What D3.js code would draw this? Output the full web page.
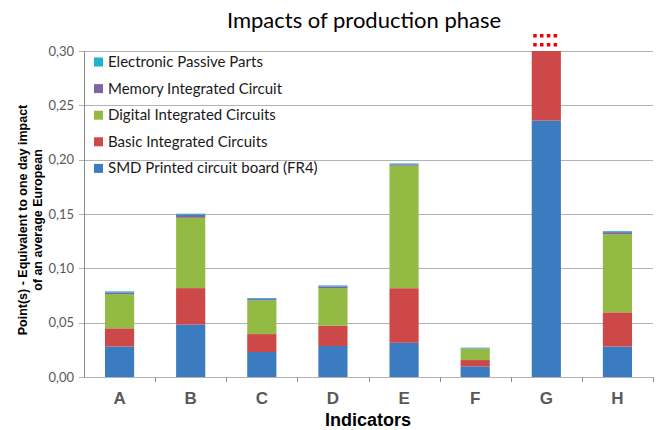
<!DOCTYPE html>
<html>
<head>
<meta charset="utf-8">
<script src="https://cdn.jsdelivr.net/npm/d3@7"></script>
<style>
  body { margin: 0; background: #fff; }
  svg { display: block; }
</style>
</head>
<body>
<div id="chart"></div>
<script>
// Chart data
const indicators = ["A", "B", "C", "D", "E", "F", "G", "H"];
const seriesNames = ["SMD Printed circuit board (FR4)", "Basic Integrated Circuits",
    "Digital Integrated Circuits", "Memory Integrated Circuit", "Electronic Passive Parts"];
const smdBoard   = [0.0280, 0.0482, 0.0230, 0.0285, 0.0315, 0.0098, 0.2360, 0.0280];
const basicIC    = [0.0168, 0.0336, 0.0165, 0.0187, 0.0502, 0.0058, 0.0900, 0.0315];
const digitalIC  = [0.0315, 0.0647, 0.0310, 0.0346, 0.1128, 0.0104, 0.0000, 0.0719];
const memoryIC   = [0.0015, 0.0028, 0.0012, 0.0016, 0.0012, 0.0004, 0.0000, 0.0019];
const passive    = [0.0010, 0.0010, 0.0009, 0.0009, 0.0008, 0.0006, 0.0000, 0.0009];
const yTicks = [0, 0.05, 0.10, 0.15, 0.20, 0.25, 0.30];

const colors = ["#3b7cc0", "#cd4849", "#93bb44", "#8064a2", "#1fb2cc"];

const width = 659;
const height = 430;
const margin = {top: 51, left: 84, right: 6, bottom: 53};

const svg = d3.select("#chart")
    .append("svg")
    .attr("width", width)
    .attr("height", height);

const xScale = d3.scaleBand()
    .domain(indicators)
    .range([margin.left, width - margin.right])
    .paddingInner(0.59)
    .paddingOuter(0.295);

const yScale = d3.scaleLinear()
    .domain([0, 0.30])
    .range([height - margin.bottom, margin.top]);

// gridlines
svg.append("g")
    .selectAll("line")
    .data(yTicks)
    .enter()
    .append("line")
        .attr("x1", margin.left - 5)
        .attr("x2", width - margin.right)
        .attr("y1", d => Math.round(yScale(d)) + 0.5)
        .attr("y2", d => Math.round(yScale(d)) + 0.5)
        .attr("stroke", "#b3b3b3")
        .attr("stroke-width", 1.2);

// stacked bars
const table = indicators.map((k, i) => ({
    key: k, s0: smdBoard[i], s1: basicIC[i], s2: digitalIC[i], s3: memoryIC[i], s4: passive[i]
}));
const stacked = d3.stack().keys(["s0", "s1", "s2", "s3", "s4"])(table);

svg.append("clipPath")
    .attr("id", "plotClip")
    .append("rect")
        .attr("x", margin.left)
        .attr("y", yScale(0.30))
        .attr("width", width - margin.left - margin.right)
        .attr("height", yScale(0) - yScale(0.30));

svg.append("g")
    .attr("clip-path", "url(#plotClip)")
    .selectAll("g")
    .data(stacked)
    .enter()
    .append("g")
        .attr("fill", (d, i) => colors[i])
    .selectAll("rect")
    .data(d => d)
    .enter()
    .append("rect")
        .attr("x", d => xScale(d.data.key))
        .attr("y", d => yScale(d[1]))
        .attr("width", xScale.bandwidth())
        .attr("height", d => Math.max(0, yScale(d[0]) - yScale(d[1])));

// off-scale marker above G
const overKeys = table.filter(d => d.s0 + d.s1 + d.s2 + d.s3 + d.s4 > 0.30).map(d => d.key);
overKeys.forEach(function(k) {
    const x0 = xScale(k) + 1;
    const step = (xScale.bandwidth() - 2) / 4;
    for (let r = 0; r < 2; r++) {
        for (let c = 0; c < 4; c++) {
            svg.append("rect")
                .attr("x", x0 + c * step + 0.5)
                .attr("y", yScale(0.30) - 17 + r * 9)
                .attr("width", 3.5)
                .attr("height", 3.5)
                .attr("fill", "#e8000b");
        }
    }
});

// axes
svg.append("line")
    .attr("x1", margin.left + 0.5).attr("x2", margin.left + 0.5)
    .attr("y1", yScale(0.30)).attr("y2", yScale(0) + 0.5)
    .attr("stroke", "#8c8c8c");

const step = xScale.step();
svg.append("g")
    .selectAll("line")
    .data(indicators)
    .enter()
    .append("line")
        .attr("x1", d => Math.round(xScale(d) + xScale.bandwidth() + step * 0.295) + 0.5)
        .attr("x2", d => Math.round(xScale(d) + xScale.bandwidth() + step * 0.295) + 0.5)
        .attr("y1", yScale(0))
        .attr("y2", yScale(0) + 5)
        .attr("stroke", "#8c8c8c");

svg.append("g")
    .selectAll("text")
    .data(yTicks)
    .enter()
    .append("text")
        .attr("x", margin.left - 10)
        .attr("y", d => yScale(d) + 4.5)
        .style("text-anchor", "end")
        .style("font-family", "Lato, 'Open Sans', sans-serif")
        .style("font-size", "13px")
        .attr("fill", "#595959")
        .text(d => d3.format(".2f")(d).replace(".", ","));

svg.append("g")
    .selectAll("text")
    .data(indicators)
    .enter()
    .append("text")
        .attr("x", d => xScale(d) + xScale.bandwidth() / 2)
        .attr("y", yScale(0) + 27)
        .style("text-anchor", "middle")
        .style("font-family", "'Liberation Sans', Arial, sans-serif")
        .style("font-weight", "bold")
        .style("font-size", "17px")
        .attr("fill", "#595959")
        .text(d => d);

svg.append("text")
    .attr("x", 368)
    .attr("y", 426)
    .style("text-anchor", "middle")
    .style("font-family", "'Liberation Sans', Arial, sans-serif")
    .style("font-weight", "bold")
    .style("font-size", "18px")
    .text("Indicators");

const yTitle = svg.append("text")
    .attr("transform", "translate(27, 220) rotate(-90)")
    .style("text-anchor", "middle")
    .style("font-family", "'Liberation Sans', Arial, sans-serif")
    .style("font-weight", "bold")
    .style("font-size", "12.5px");
yTitle.append("tspan").attr("x", 0).attr("dy", 0).text("Point(s) - Equivalent to one day impact");
yTitle.append("tspan").attr("x", 0).attr("dy", 15).text("of an average European");

svg.append("text")
    .attr("x", 364)
    .attr("y", 28)
    .style("text-anchor", "middle")
    .style("font-family", "Lato, 'Open Sans', sans-serif")
    .style("font-size", "22px")
    .text("Impacts of production phase");

// legend (top item first)
const legendOrder = [4, 3, 2, 1, 0];
const legend = svg.append("g")
    .selectAll("g")
    .data(legendOrder)
    .enter()
    .append("g")
        .attr("transform", (d, i) => `translate(94, ${62 + i * 26.6})`);

legend.append("rect")
    .attr("x", 0)
    .attr("y", -4.5)
    .attr("width", 9)
    .attr("height", 9)
    .attr("fill", d => colors[d]);

legend.append("text")
    .attr("x", 14)
    .attr("y", 5)
    .style("font-family", "Lato, 'Open Sans', sans-serif")
    .style("font-size", "15px")
    .attr("fill", "#1a1a1a")
    .text(d => seriesNames[d]);
</script>
</body>
</html>
